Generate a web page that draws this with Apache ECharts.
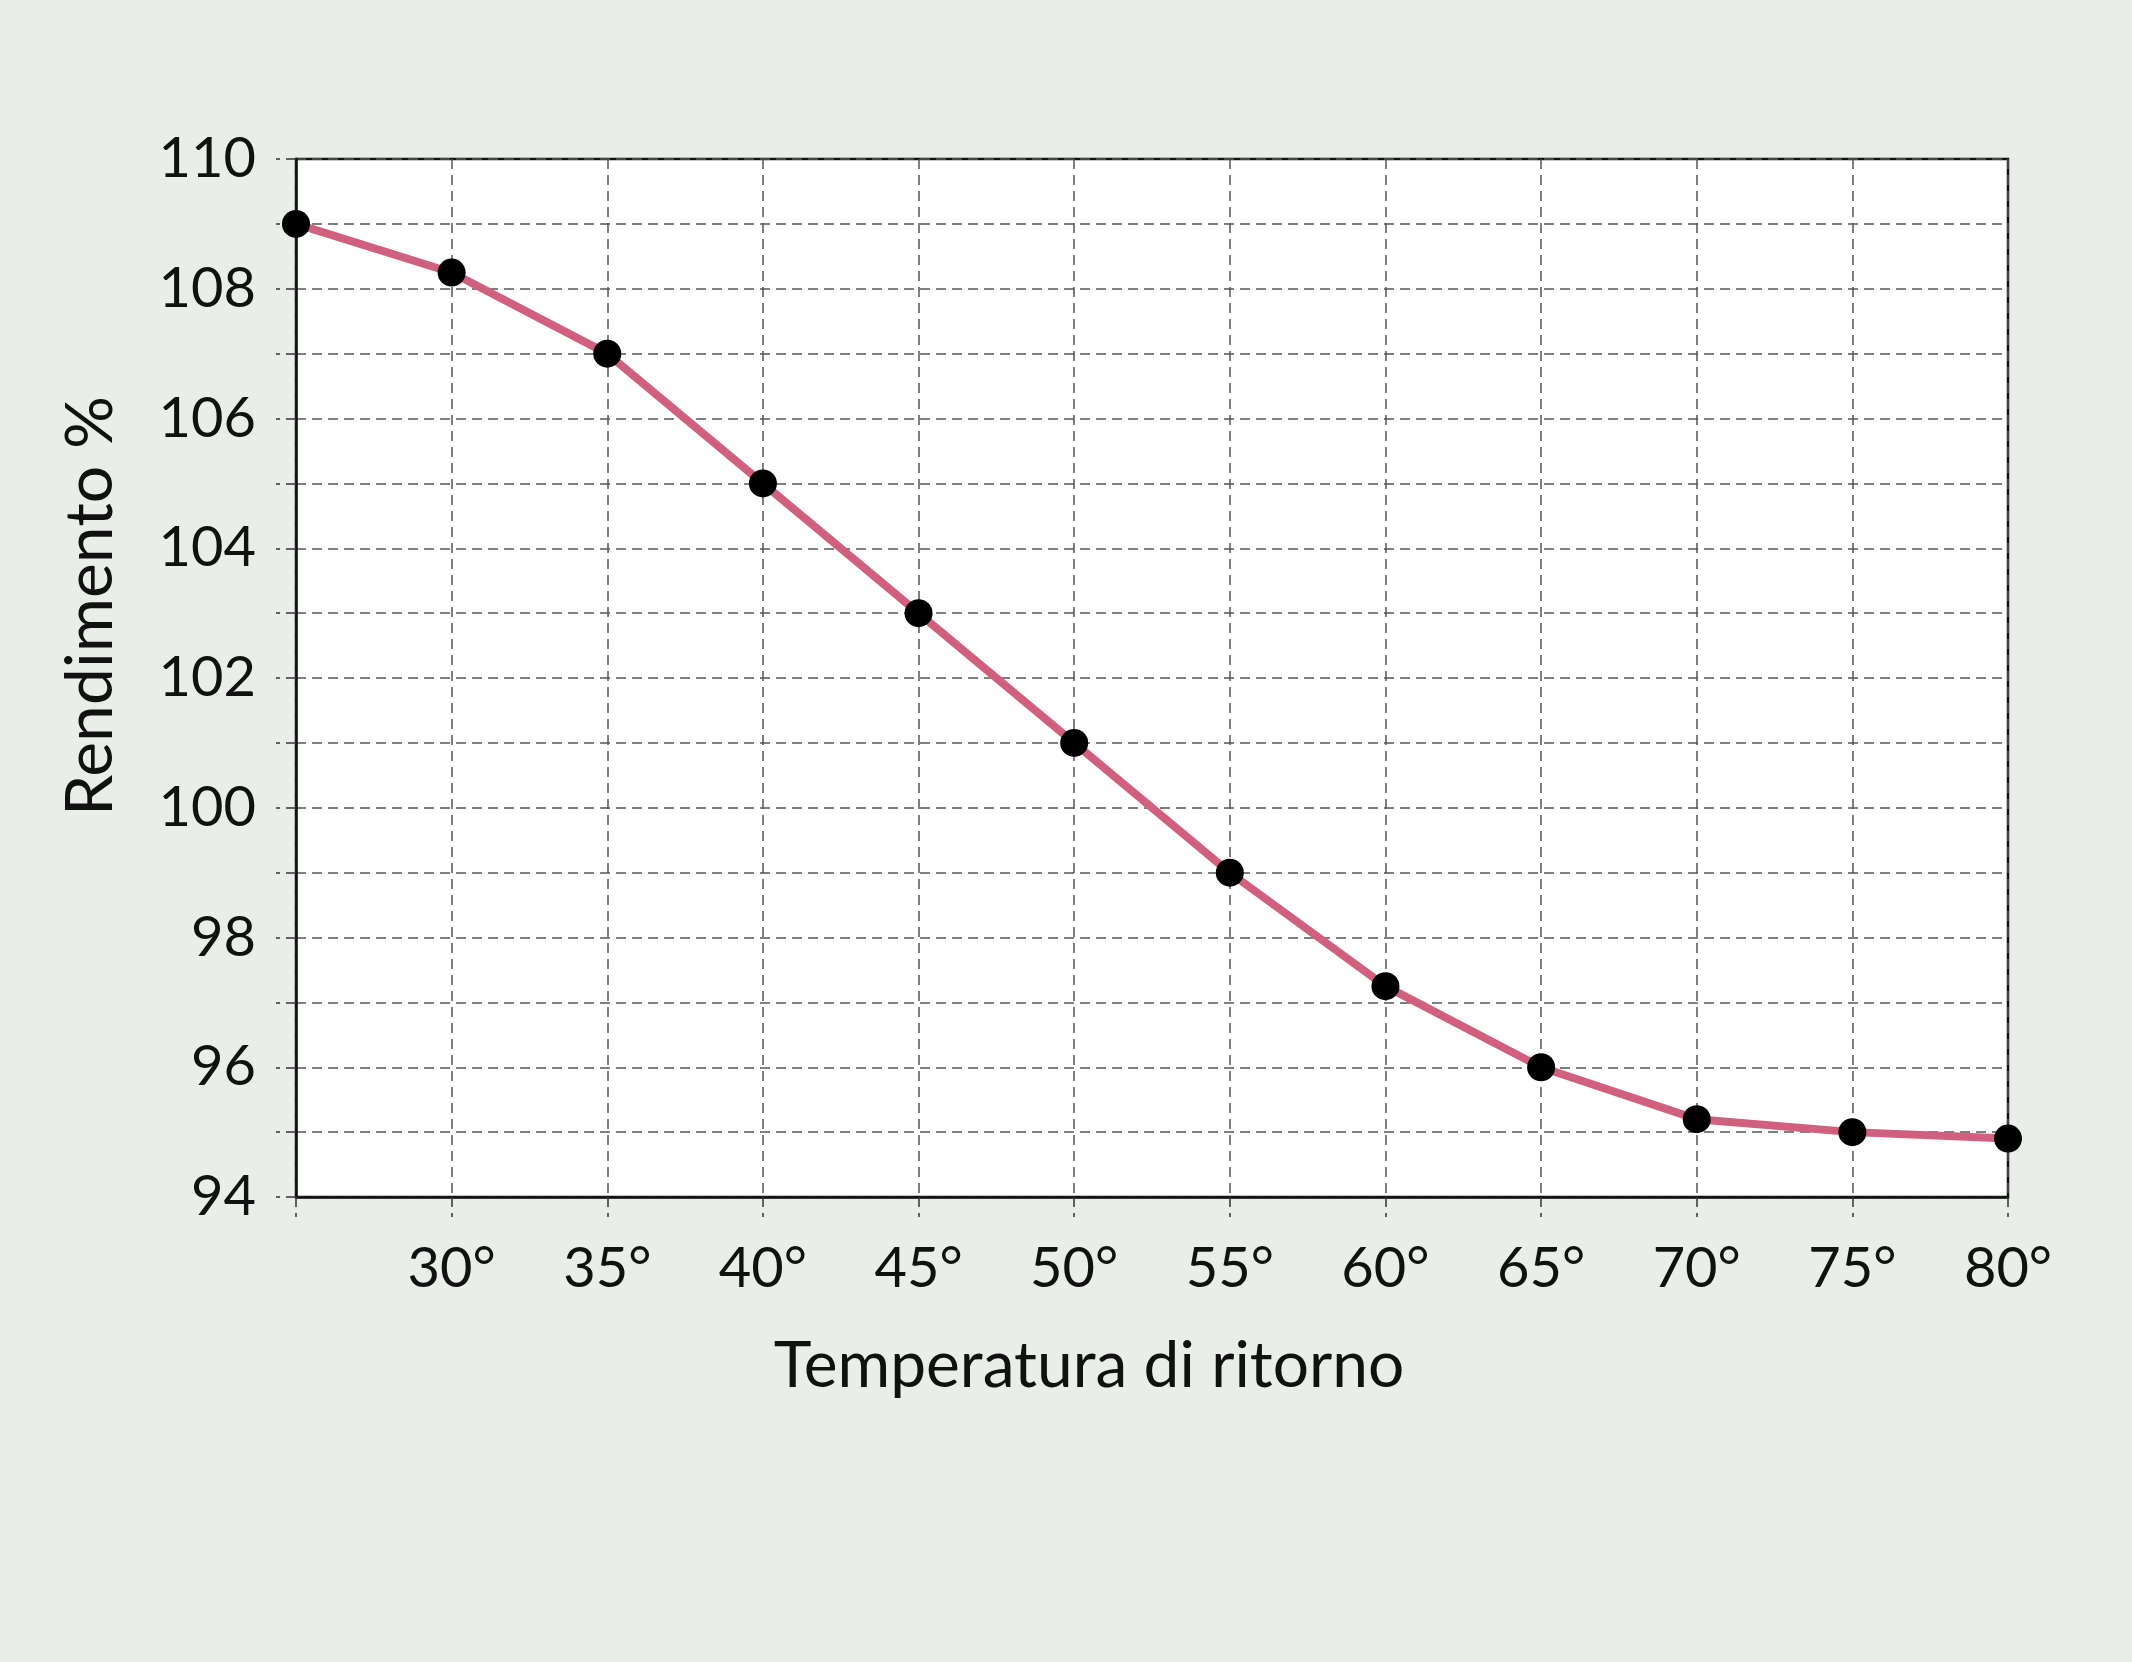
<!DOCTYPE html>
<html>
<head>
<meta charset="utf-8">
<script src="https://cdn.jsdelivr.net/npm/echarts@6/dist/echarts.min.js"></script>
<style>
html,body{margin:0;padding:0;background:#e9efe8;}
#c{width:2132px;height:1662px;}
</style>
</head>
<body>
<div id="c"></div>
<script>
const temperature = [25, 30, 35, 40, 45, 50, 55, 60, 65, 70, 75, 80];
const rendimento = [109, 108.25, 107, 105, 103, 101, 99, 97.25, 96, 95.2, 95, 94.9];
const xTitle = 'Temperatura di ritorno';
const yTitle = 'Rendimento %';

const FONT = 'Lato';
const chart = echarts.init(document.getElementById('c'));
chart.setOption({
  backgroundColor: '#e9efe8',
  animation: false,
  grid: {
    left: 296, top: 159, width: 1712, height: 1038,
    show: true, backgroundColor: '#ffffff', borderColor: '#111', borderWidth: 2.5
  },
  xAxis: {
    type: 'value', min: 25, max: 80, interval: 5,
    name: xTitle, nameLocation: 'middle', nameGap: 137,
    nameTextStyle: { fontFamily: FONT, fontSize: 64, color: '#111', padding: [0, 126, 0, 0] },
    axisLine: { show: true, onZero: false, lineStyle: { color: '#111', width: 2.5 } },
    axisTick: { show: true, length: 20, lineStyle: { color: '#333', width: 1.5, type: [10, 6] } },
    axisLabel: {
      fontFamily: FONT, fontSize: 56, color: '#111', margin: 44,
      formatter: v => v === 25 ? '' : v + '°'
    },
    splitLine: { show: true, lineStyle: { color: '#555', width: 1.5, type: [10, 6] } }
  },
  yAxis: {
    type: 'value', min: 94, max: 110, interval: 1,
    name: yTitle, nameLocation: 'middle', nameGap: 172, nameRotate: 90,
    nameTextStyle: { fontFamily: FONT, fontSize: 66, color: '#111', padding: [0, 0, 0, 144] },
    axisLine: { show: true, onZero: false, lineStyle: { color: '#111', width: 2.5 } },
    axisTick: { show: true, length: 20, lineStyle: { color: '#333', width: 1.5, type: [10, 6] } },
    axisLabel: {
      fontFamily: FONT, fontSize: 56, color: '#111', margin: 40,
      formatter: v => (v % 2 === 0 ? String(v) : '')
    },
    splitLine: { show: true, lineStyle: { color: '#555', width: 1.5, type: [10, 6] } }
  },
  series: [{
    type: 'line',
    data: temperature.map((t, i) => [t, rendimento[i]]),
    symbol: 'circle', symbolSize: 28,
    itemStyle: { color: '#000' },
    lineStyle: { color: '#d0607e', width: 8 },
    clip: false
  }]
});
</script>
</body>
</html>
